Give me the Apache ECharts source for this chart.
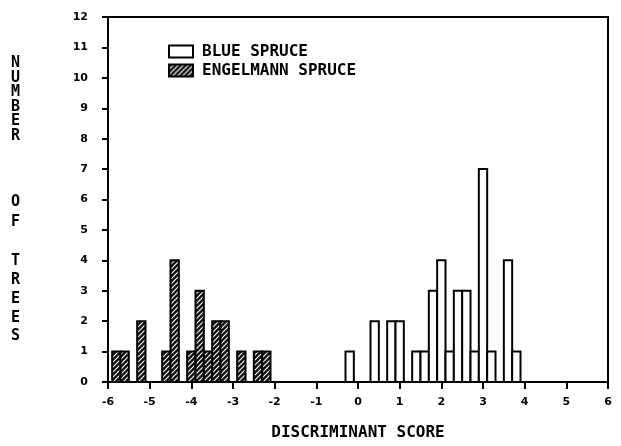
<!DOCTYPE html>
<html>
<head>
<meta charset="utf-8">
<script src="https://cdn.jsdelivr.net/npm/echarts@6/dist/echarts.min.js"></script>
<style>
  html, body { margin: 0; padding: 0; background: #fff; }
  #chart { width: 621px; height: 446px; }
</style>
</head>
<body>
<div id="chart"></div>
<script>
// histogram bins are 0.2 wide, values are bin centres
const binWidth = 0.2
const blueScores = [-0.2, 0.4, 0.8, 1.0, 1.4, 1.6, 1.8, 2.0, 2.2, 2.4, 2.6, 2.8, 3.0, 3.2, 3.6, 3.8]
const blueCounts = [1, 2, 2, 2, 1, 1, 3, 4, 1, 3, 3, 1, 7, 1, 4, 1]
const engelScores = [-5.8, -5.6, -5.2, -4.6, -4.4, -4.0, -3.8, -3.6, -3.4, -3.2, -2.8, -2.4, -2.2]
const engelCounts = [1, 1, 2, 1, 4, 1, 3, 1, 2, 2, 1, 1, 1]
const seriesNames = ['BLUE SPRUCE', 'ENGELMANN SPRUCE']

// hatch tile: dark fill with white diagonal strokes
function makeHatch () {
  let c = document.createElement('canvas')
  c.width = 5
  c.height = 5
  let ctx = c.getContext('2d')
  ctx.fillStyle = '#111'
  ctx.fillRect(0, 0, 5, 5)
  ctx.strokeStyle = '#fff'
  ctx.lineWidth = 1.1
  ctx.beginPath()
  ctx.moveTo(0, 5); ctx.lineTo(5, 0)
  ctx.moveTo(-1, 1); ctx.lineTo(1, -1)
  ctx.moveTo(4, 6); ctx.lineTo(6, 4)
  ctx.stroke()
  return { image: c, repeat: 'repeat' }
}
const hatch = makeHatch()

function pairs (xs, ys) {
  return xs.map((x, i) => [x, ys[i]])
}

function renderBar (params, api) {
  let c = api.value(0)
  let n = api.value(1)
  let p0 = api.coord([c - binWidth / 2, n])
  let p1 = api.coord([c + binWidth / 2, 0])
  return {
    type: 'rect',
    shape: { x: p0[0], y: p0[1], width: p1[0] - p0[0], height: p1[1] - p0[1] },
    style: api.style()
  }
}

const tickFont = { color: '#000', fontFamily: 'DejaVu Sans', fontWeight: 'bold', fontSize: 11 }
const titleFont = { fill: '#000', fontFamily: 'DejaVu Sans Mono', fontWeight: 'bold', fontSize: 15, align: 'center' }

let chart = echarts.init(document.getElementById('chart'))
chart.setOption({
  animation: false,
  backgroundColor: '#fff',
  grid: {
    left: 108, right: 13, top: 17, bottom: 60,
    show: true, borderColor: '#000', borderWidth: 2
  },
  legend: {
    orient: 'vertical',
    left: 163,
    top: 37,
    itemWidth: 24,
    itemHeight: 12,
    itemGap: 0,
    icon: 'rect',
    textStyle: {
      color: '#000', fontFamily: 'DejaVu Sans Mono', fontWeight: 'bold',
      fontSize: 16, lineHeight: 19, padding: [0, 0, 0, 4]
    },
    data: [
      { name: seriesNames[0], itemStyle: { color: '#fff', borderColor: '#000', borderWidth: 2 } },
      { name: seriesNames[1], itemStyle: { color: hatch, borderColor: '#000', borderWidth: 2 } }
    ]
  },
  xAxis: {
    type: 'value',
    min: -6, max: 6, interval: 1,
    name: 'DISCRIMINANT SCORE',
    nameLocation: 'middle',
    nameGap: 43,
    nameTextStyle: { color: '#000', fontFamily: 'DejaVu Sans Mono', fontWeight: 'bold', fontSize: 16 },
    axisLine: { onZero: false, lineStyle: { color: '#000', width: 2 } },
    axisTick: { inside: false, length: 7, lineStyle: { color: '#000', width: 2 } },
    axisLabel: Object.assign({ margin: 15 }, tickFont),
    splitLine: { show: false }
  },
  yAxis: {
    type: 'value',
    min: 0, max: 12, interval: 1,
    axisLine: { show: true, onZero: false, lineStyle: { color: '#000', width: 2 } },
    axisTick: { show: true, inside: false, length: 6, lineStyle: { color: '#000', width: 2 } },
    axisLabel: Object.assign({ margin: 20 }, tickFont),
    splitLine: { show: false }
  },
  graphic: [
    { type: 'text', left: 11, top: 56, style: Object.assign({ text: 'N\nU\nM\nB\nE\nR', lineHeight: 14.5 }, titleFont) },
    { type: 'text', left: 11, top: 192, style: Object.assign({ text: 'O\nF', lineHeight: 20 }, titleFont) },
    { type: 'text', left: 11, top: 252, style: Object.assign({ text: 'T\nR\nE\nE\nS', lineHeight: 18.8 }, titleFont) }
  ],
  series: [
    {
      name: seriesNames[0],
      type: 'custom',
      renderItem: renderBar,
      itemStyle: { color: '#fff', borderColor: '#000', borderWidth: 2 },
      encode: { x: 0, y: 1 },
      data: pairs(blueScores, blueCounts)
    },
    {
      name: seriesNames[1],
      type: 'custom',
      renderItem: renderBar,
      itemStyle: { color: hatch, borderColor: '#000', borderWidth: 2 },
      encode: { x: 0, y: 1 },
      data: pairs(engelScores, engelCounts)
    }
  ]
})
</script>
</body>
</html>
